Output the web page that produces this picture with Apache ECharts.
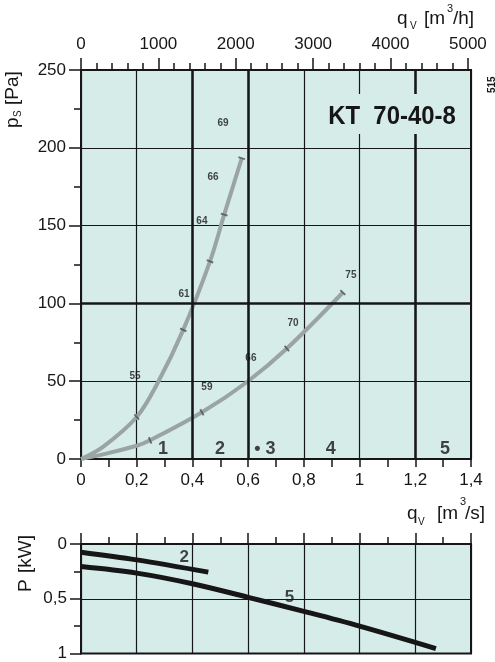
<!DOCTYPE html>
<html>
<head>
<meta charset="utf-8">
<script src="https://cdn.jsdelivr.net/npm/echarts@6/dist/echarts.min.js"></script>
<style>
html, body { margin: 0; padding: 0; background: #fff; }
#chart { width: 495px; height: 662px; }
</style>
</head>
<body>
<div id="chart"></div>
<script>
// KT 70-40-8 : system curves (top) and power draw (bottom)
const steepQ = [0, 0.079, 0.2, 0.277, 0.367, 0.463, 0.514, 0.577];
const steepP = [0, 7.8, 27, 49.5, 83, 127, 157, 193.3];
const flatQ = [0, 0.079, 0.2, 0.248, 0.434, 0.596, 0.739, 0.94];
const flatP = [0, 3, 8.5, 12, 30, 49.5, 71, 107];
const steepMarkQ = [0.2, 0.367, 0.463, 0.514, 0.577];
const steepMarkP = [27, 83, 127, 157, 193.3];
const flatMarkQ = [0.248, 0.434, 0.739, 0.94];
const flatMarkP = [12, 30, 71, 107];
const soundTxt = ['55', '61', '64', '66', '69', '59', '66', '70', '75'];
const soundQ = [0.194, 0.370, 0.434, 0.474, 0.510, 0.452, 0.610, 0.761, 0.969];
const soundP = [53, 106, 153, 181, 215.6, 46, 65, 87.5, 118];
const zoneTxt = ['1', '2', '• 3', '4', '5'];
const zoneQ = [0.294, 0.499, 0.66, 0.897, 1.307];
const zoneP = [6.4, 6.4, 6.4, 6.4, 6.4];
const power2Q = [0, 0.2, 0.457];
const power2P = [0.075, 0.145, 0.257];
const power5Q = [0, 0.2, 0.4, 0.6, 0.8, 1.0, 1.274];
const power5P = [0.206, 0.266, 0.363, 0.487, 0.615, 0.75, 0.955];
const powerTxt = ['2', '5'];
const powerTxtQ = [0.371, 0.748];
const powerTxtP = [0.12, 0.49];
const thickQ = [0.4, 0.6, 1.2];
const thickP = [100];
const m3hMajor = [0, 1000, 2000, 3000, 4000, 5000];
const m3hMinor = [200, 400, 600, 800, 1200, 1400, 1600, 1800, 2200, 2400, 2600, 2800,
    3200, 3400, 3600, 3800, 4200, 4400, 4600, 4800];

const bg = '#d6ece9';
const ink = '#161616';
const grey = '#9aa4a2';
const fnt = '"Liberation Sans", Arial, sans-serif';
const comma = v => String(v).replace('.', ',');
const zip = (a, b) => a.map((v, i) => [v, b[i]]);

const chart = echarts.init(document.getElementById('chart'), null, { renderer: 'canvas' });

function lbl(size) {
    return { margin: 14, fontSize: size, color: ink, fontFamily: fnt, formatter: comma };
}
const tk = (len, w) => ({ show: true, length: len, lineStyle: { color: ink, width: w } });
const thin = { show: true, lineStyle: { color: ink, width: 1.2 } };
const axLine = { show: true, lineStyle: { color: ink, width: 2 } };

function txt(s, x, y, size, weight) {
    return { type: 'text', x: x, y: y, z: 100, silent: true,
        style: { text: s, fontSize: size, fontWeight: weight || 'normal', fontFamily: fnt,
            fill: ink, align: 'left', verticalAlign: 'middle' } };
}
function labelSeries(xi, yi, qs, ps, tx, size) {
    return { type: 'scatter', xAxisIndex: xi, yAxisIndex: yi, symbolSize: 1, silent: true, z: 6,
        itemStyle: { color: 'rgba(0,0,0,0)' },
        label: { show: true, position: 'inside', formatter: p => tx[p.dataIndex],
            fontSize: size, fontWeight: 'bold', fontFamily: fnt, color: ink },
        data: zip(qs, ps) };
}
function markSeries(id, qs, ps) {
    return { id: id, type: 'scatter', xAxisIndex: 0, yAxisIndex: 0, symbol: 'rect',
        symbolSize: [1.8, 7], silent: true, z: 5, itemStyle: { color: '#4b5150' },
        data: zip(qs, ps) };
}
function curve(id, xi, yi, qs, ps, color, w) {
    return { id: id, type: 'line', xAxisIndex: xi, yAxisIndex: yi, smooth: 0.35,
        showSymbol: false, z: 3, lineStyle: { color: color, width: w }, data: zip(qs, ps) };
}

chart.setOption({
    animation: false,
    grid: [
        { left: 81, top: 70, width: 390, height: 389, show: true, backgroundColor: bg, borderColor: ink, borderWidth: 2 },
        { left: 81, top: 544, width: 390, height: 111, show: true, backgroundColor: bg, borderColor: ink, borderWidth: 2 }
    ],
    xAxis: [
        { gridIndex: 0, type: 'value', position: 'bottom', min: 0, max: 1.4, interval: 0.2,
            axisLine: axLine, axisTick: tk(8, 1.5),
            minorTick: { show: true, splitNumber: 2, length: 8, lineStyle: { color: ink, width: 1.5 } },
            axisLabel: Object.assign(lbl(17), { margin: 13 }), splitLine: thin },
        { gridIndex: 0, type: 'value', position: 'top', min: 0, max: 5040,
            axisLine: axLine, axisTick: Object.assign(tk(12, 1.5), { customValues: m3hMajor }),
            axisLabel: Object.assign(lbl(17), { margin: 17, customValues: m3hMajor, formatter: v => String(v) }),
            splitLine: { show: false } },
        { gridIndex: 0, type: 'value', position: 'top', min: 0, max: 5040,
            axisLine: { show: false }, axisTick: Object.assign(tk(7, 1.5), { customValues: m3hMinor }),
            axisLabel: { show: false }, splitLine: { show: false } },
        { gridIndex: 1, type: 'value', position: 'top', min: 0, max: 1.4, interval: 0.2,
            axisLine: axLine, axisTick: tk(11, 1.5),
            minorTick: { show: true, splitNumber: 2, length: 7, lineStyle: { color: ink, width: 1.5 } },
            axisLabel: { show: false }, splitLine: thin }
    ],
    yAxis: [
        { gridIndex: 0, type: 'value', min: 0, max: 250, interval: 50,
            axisLine: axLine, axisTick: tk(12, 1.5),
            minorTick: { show: true, splitNumber: 2, length: 7, lineStyle: { color: ink, width: 1.5 } },
            axisLabel: Object.assign(lbl(17), { margin: 15 }), splitLine: thin },
        { gridIndex: 1, type: 'value', min: 0, max: 1, interval: 0.5, inverse: true,
            axisLine: axLine, axisTick: tk(11, 1.5),
            minorTick: { show: true, splitNumber: 2, length: 7, lineStyle: { color: ink, width: 1.5 } },
            axisLabel: Object.assign(lbl(17), { margin: 14 }), splitLine: thin }
    ],
    series: [
        { type: 'line', xAxisIndex: 0, yAxisIndex: 0, data: [], z: 1,
            markLine: { silent: true, symbol: 'none', label: { show: false },
                lineStyle: { color: ink, width: 2.5, type: 'solid' },
                data: thickQ.map(q => ({ xAxis: q })).concat(thickP.map(p => ({ yAxis: p }))) } },
        curve('steep', 0, 0, steepQ, steepP, grey, 4),
        curve('flat', 0, 0, flatQ, flatP, grey, 4),
        markSeries('steepMarks', steepMarkQ, steepMarkP),
        markSeries('flatMarks', flatMarkQ, flatMarkP),
        labelSeries(0, 0, soundQ, soundP, soundTxt, 10),
        labelSeries(0, 0, zoneQ, zoneP, zoneTxt, 18),
        curve('pow2', 3, 1, power2Q, power2P, ink, 5),
        curve('pow5', 3, 1, power5Q, power5P, ink, 5),
        labelSeries(3, 1, powerTxtQ, powerTxtP, powerTxt, 17)
    ],
    graphic: [
        { type: 'rect', z: 99, silent: true, shape: { x: 324, y: 94, width: 136, height: 40 }, style: { fill: bg } },
        { type: 'text', x: 392, y: 117, scaleX: 0.92, z: 100, silent: true,
            style: { text: 'KT  70-40-8', fontSize: 26, fontWeight: 'bold', fontFamily: fnt, fill: ink,
                align: 'center', verticalAlign: 'middle' } },
        txt('q', 397, 18.5, 19), txt('V', 410, 26.5, 10), txt('[m', 424, 18.5, 19),
        txt('3', 447, 8.5, 11), txt('/h]', 453, 18.5, 19),
        txt('q', 407, 514, 19), txt('V', 418, 522, 10), txt('[m', 437, 514, 19),
        txt('3', 460, 502, 11), txt('/s]', 465, 514, 19),
        { type: 'group', x: 13, y: 128, rotation: Math.PI / 2,
            children: [txt('p', 0, 0, 19), txt('S', 11, 5, 10), txt('[Pa]', 23, 0, 19)] },
        { type: 'group', x: 26, y: 592, rotation: Math.PI / 2,
            children: [txt('P', 0, 0, 19), txt('[kW]', 19, 0, 19)] },
        { type: 'group', x: 492, y: 93, rotation: Math.PI / 2,
            children: [txt('515', 0, 0, 10, 'bold')] }
    ]
});

// the small dashes cross their curve at right angles: take the slope on screen
function slopeDeg(sid, qs, ps, q) {
    let i = 0;
    while (i < qs.length - 2 && qs[i + 1] < q) i++;
    const a = chart.convertToPixel({ seriesId: sid }, [qs[i], ps[i]]);
    const b = chart.convertToPixel({ seriesId: sid }, [qs[i + 1], ps[i + 1]]);
    return Math.atan2(a[1] - b[1], b[0] - a[0]) * 180 / Math.PI;
}
chart.setOption({
    series: [
        { id: 'steepMarks', data: steepMarkQ.map((q, i) => ({ value: [q, steepMarkP[i]], symbolRotate: slopeDeg('steep', steepQ, steepP, q) })) },
        { id: 'flatMarks', data: flatMarkQ.map((q, i) => ({ value: [q, flatMarkP[i]], symbolRotate: slopeDeg('flat', flatQ, flatP, q) })) }
    ]
});
</script>
</body>
</html>
